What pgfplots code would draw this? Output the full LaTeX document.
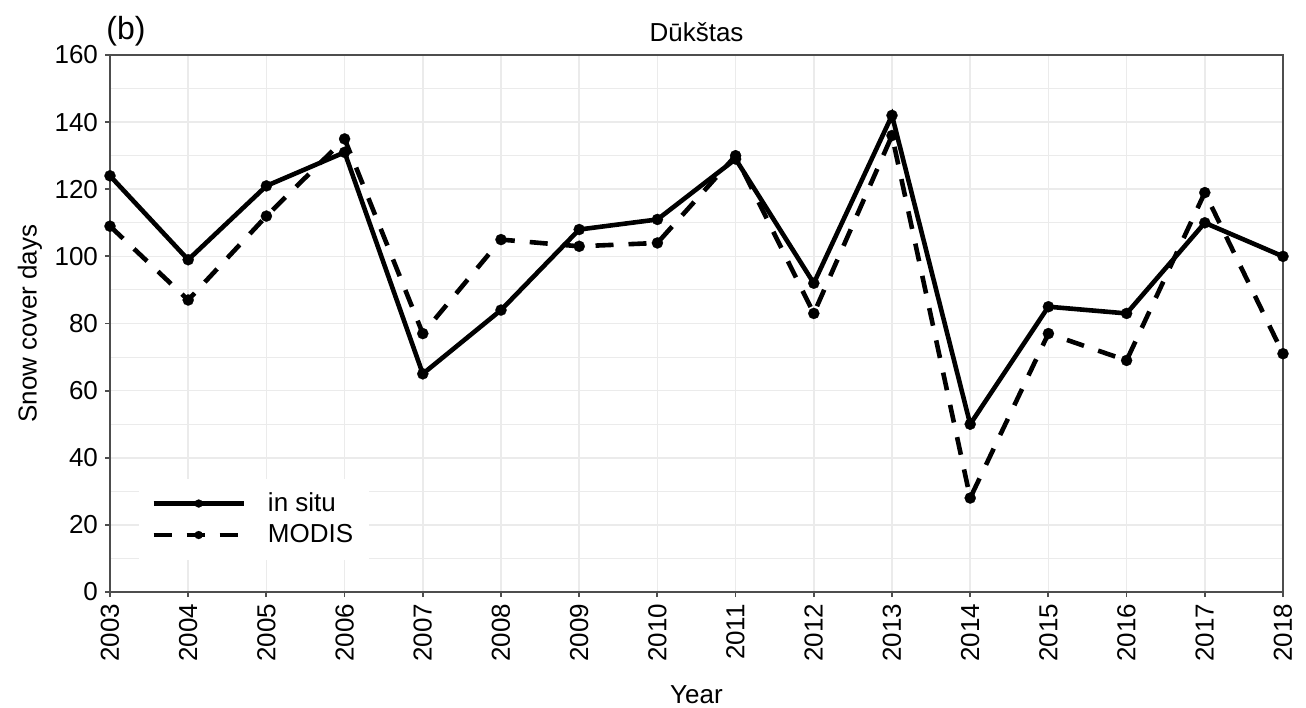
\documentclass[border=0pt]{standalone}
\usepackage{pgfplots}
\pgfplotsset{compat=1.18}
\usepackage{fontspec}
\setmainfont{Liberation Sans}
\usetikzlibrary{calc}
\definecolor{gridc}{HTML}{EBEBEB}
\definecolor{axc}{HTML}{4D4D4D}
\newcommand{\fs}{\fontsize{13}{15.6}\selectfont}
\begin{document}
\begin{tikzpicture}
\begin{axis}[name=ax, scale only axis, width=586.5pt, height=268.5pt,
  xmin=2003, xmax=2018, ymin=0, ymax=160,
  xtick={2003,2004,...,2018}, ytick={0,20,...,160},
  minor x tick num=1, minor y tick num=1,
  grid=both,
  major grid style={draw=gridc, line width=0.8pt},
  minor grid style={draw=gridc, line width=0.5pt},
  axis line style={draw=axc, line width=0.9pt},
  tick style={draw=axc, line width=0.9pt},
  major tick length=2.5pt, minor tick length=0pt, tick align=outside,
  xtick pos=bottom, ytick pos=left,
  /pgf/number format/assume math mode=true,
  /pgf/number format/1000 sep={},
  tick label style={font=\fs},
  x tick label style={rotate=90, anchor=east},
  xlabel={Year}, ylabel={Snow cover days},
  label style={font=\fs},
  xlabel style={at={(axis description cs:0.5,0)}, anchor=center, yshift=-51.5pt},
  ylabel style={at={(axis description cs:-0.0682,0.5)}, anchor=center},
  title={Dūkštas},
  title style={at={(axis description cs:0.5,1)}, anchor=center, yshift=5.5pt, font=\fs},
  clip=false,
  legend style={at={(axis description cs:0,0)}, anchor=south west, xshift=14.5pt, yshift=16pt,
    draw=none, fill=white, font=\fs, inner xsep=6pt, inner ysep=5pt, row sep=1pt},
  legend cell align=left,
  legend image code/.code={%
    \draw[#1] (0pt,0pt) -- (45pt,0pt);
    \draw[#1, mark size=2pt, only marks] plot coordinates {(22.5pt,0pt)};
    \path (54pt,0pt);},
]
\addplot[black, line width=2.3pt, mark=*, mark size=2.8pt, mark options={solid, line width=0.1pt}] coordinates {
(2003,124)(2004,99)(2005,121)(2006,131)(2007,65)(2008,84)(2009,108)(2010,111)
(2011,129)(2012,92)(2013,142)(2014,50)(2015,85)(2016,83)(2017,110)(2018,100)};
\addlegendentry{in situ}
\addplot[black, line width=2.3pt, dash pattern=on 9pt off 7.5pt, mark=*, mark size=2.8pt, mark options={solid, line width=0.1pt}] coordinates {
(2003,109)(2004,87)(2005,112)(2006,135)(2007,77)(2008,105)(2009,103)(2010,104)
(2011,130)(2012,83)(2013,136)(2014,28)(2015,77)(2016,69)(2017,119)(2018,71)};
\addlegendentry{MODIS}
\end{axis}
\node[anchor=west, inner sep=0pt, font=\fontsize{16}{19}\selectfont] at ($(ax.north west)+(-2pt,12pt)$) {(b)};
\pgfresetboundingbox
\path[use as bounding box] ($(ax.south west)+(-55pt,-57.5pt)$) rectangle ($(ax.north east)+(11.5pt,27.5pt)$);
\end{tikzpicture}
\end{document}
